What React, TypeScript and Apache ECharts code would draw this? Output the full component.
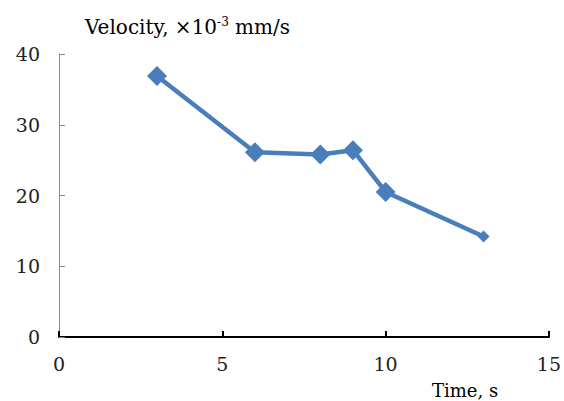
import React, { useEffect, useRef } from "react";
import * as echarts from "echarts";

const timeS = [3, 6, 8, 9, 10, 13];
const velocity = [36.9, 26.1, 25.8, 26.4, 20.5, 14.2];
const markerSizes = [20, 20, 20, 20, 20, 12];
const xTicks = [0, 5, 10, 15];
const yTicks = [0, 10, 20, 30, 40];

const FONT = "'DejaVu Serif', 'Liberation Serif', serif";

export default function App() {
  const ref = useRef<HTMLDivElement>(null);
  useEffect(() => {
    document.body.style.margin = "0";
    if (!ref.current) return;
    const chart = echarts.init(ref.current, null, { renderer: "svg" });
    chart.setOption({
      animation: false,
      backgroundColor: "#ffffff",
      grid: { left: 59, right: 13, top: 54, bottom: 64, containLabel: false },
      xAxis: {
        type: "value",
        min: xTicks[0],
        max: xTicks[xTicks.length - 1],
        interval: 5,
        splitLine: { show: false },
        axisLine: { show: true, lineStyle: { color: "#000", width: 2 } },
        axisTick: { show: true, inside: true, length: 6, lineStyle: { color: "#000", width: 2 } },
        axisLabel: { color: "#222", fontFamily: FONT, fontSize: 19, margin: 17 },
      },
      yAxis: {
        type: "value",
        min: yTicks[0],
        max: yTicks[yTicks.length - 1],
        interval: 10,
        splitLine: { show: false },
        axisLine: { show: true, lineStyle: { color: "#888", width: 1 } },
        axisTick: { show: true, inside: true, length: 6, lineStyle: { color: "#888", width: 1 } },
        axisLabel: { color: "#222", fontFamily: FONT, fontSize: 19, margin: 19 },
      },
      graphic: [
        {
          type: "text",
          left: 85,
          top: 16,
          style: {
            text: "{a|Velocity, ×10}{b|-3}{a| mm/s}",
            rich: {
              a: { fontFamily: FONT, fontSize: 20, fill: "#000" },
              b: { fontFamily: FONT, fontSize: 12, fill: "#000", padding: [0, 0, 10, 0] },
            },
          },
        },
        {
          type: "text",
          left: 432,
          top: 381,
          style: { text: "Time, s", fontFamily: FONT, fontSize: 18, fill: "#000" },
        },
      ],
      series: [
        {
          type: "line",
          data: timeS.map((t, i) => ({ value: [t, velocity[i]], symbolSize: markerSizes[i] })),
          symbol: "diamond",
          lineStyle: { color: "#4a7ebb", width: 4.5 },
          itemStyle: { color: "#4a7ebb" },
        },
      ],
    });
    return () => chart.dispose();
  }, []);
  return <div ref={ref} style={{ width: 564, height: 401 }} />;
}
